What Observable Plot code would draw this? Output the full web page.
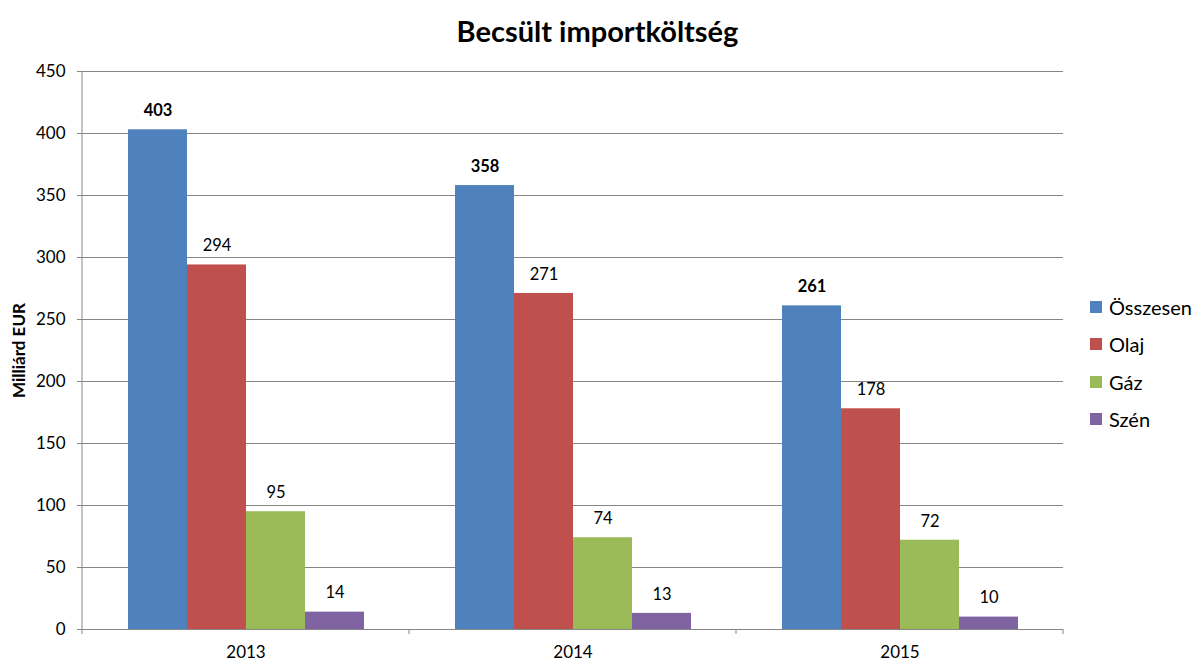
<!DOCTYPE html>
<html><head><meta charset="utf-8">
<script src="https://cdn.jsdelivr.net/npm/d3@7"></script>
<script src="https://cdn.jsdelivr.net/npm/@observablehq/plot@0.6"></script>
<style>
body{margin:0;background:#fff;font-family:Lato,"Open Sans",sans-serif;}
#wrap{position:relative;width:1195px;height:662px;overflow:hidden;}
#title{position:absolute;left:0;top:0;width:1195px;height:60px;line-height:62px;text-align:center;font-size:29px;font-weight:bold;color:#000;}
#chart{position:absolute;left:0;top:55px;}
#legend{position:absolute;left:1090px;top:288px;font-size:20px;color:#000;}
.li{display:flex;align-items:center;height:37.5px;}
.sw{width:12px;height:12px;margin-right:7px;}
</style>
</head><body>
<div id="wrap">
  <div id="title">Becsült importköltség</div>
  <div id="chart"></div>
  <div id="legend"></div>
</div>
<script>
const years = ["2013", "2014", "2015"];
const series = ["Összesen", "Olaj", "Gáz", "Szén"];
const osszesen = [403, 358, 261];
const olaj = [294, 271, 178];
const gaz = [95, 74, 72];
const szen = [14, 13, 10];
const colors = ["#4F81BD", "#C0504D", "#9BBB59", "#8064A2"];
const yTicks = [0, 50, 100, 150, 200, 250, 300, 350, 400, 450];
const yLabel = "Milliárd EUR";

const valuesBySeries = [osszesen, olaj, gaz, szen];
const rows = [];
years.forEach((yr, i) => series.forEach((s, j) => rows.push({year: yr, series: s, value: valuesBySeries[j][i]})));

const gridColor = "#868686";
const chart = Plot.plot({
  width: 1195, height: 607,
  marginLeft: 82, marginRight: 132, marginTop: 16, marginBottom: 33,
  style: {fontFamily: "Lato, 'Open Sans', sans-serif", fontSize: "16px", color: "#000", background: "#fff"},
  fx: {domain: years, padding: 0, label: null},
  x: {domain: series, paddingInner: 0, paddingOuter: 0.747, axis: null},
  y: {domain: [0, 450]},
  color: {domain: series, range: colors},
  marks: [
    Plot.gridY(yTicks, {stroke: gridColor, strokeOpacity: 1}),
    Plot.barY(rows, {fx: "year", x: "series", y: "value", fill: "series"}),
    Plot.text(rows.filter(d => d.series === "Összesen"), {fx: "year", x: "series", y: "value", text: d => String(d.value), dy: -19, fontWeight: "bold", fontSize: 16.5}),
    Plot.text(rows.filter(d => d.series !== "Összesen"), {fx: "year", x: "series", y: "value", text: d => String(d.value), dy: -19, fontSize: 16.5}),
    Plot.axisY(yTicks, {tickSize: 5, tickPadding: 12, stroke: gridColor, label: yLabel, labelArrow: "none", labelAnchor: "center", labelOffset: 70, fontSize: 17}),
    Plot.axisFx({anchor: "bottom", tickSize: 0, tickPadding: 16, label: null, fontSize: 17}),
    Plot.ruleY([0], {stroke: gridColor})
  ]
});
document.getElementById("chart").appendChild(chart);

// bold axis title
const lab = chart.querySelector('[aria-label="y-axis label"] text') || chart.querySelector('[aria-label="y-axis label"]');
if (lab) { lab.setAttribute("font-weight", "bold"); lab.setAttribute("font-size", "17"); }

// axis line and group separators from the fx scale
const fx = chart.scale("fx");
const svg = d3.select(chart);
const yS = chart.scale("y");
const y0 = yS.apply(0), yTop = yS.apply(450);
const edges = years.map(v => fx.apply(v));
edges.push(fx.apply(years[years.length - 1]) + fx.bandwidth);
svg.append("line").attr("x1", edges[0]).attr("x2", edges[0]).attr("y1", yTop).attr("y2", y0).attr("stroke", gridColor);
edges.forEach(e => svg.append("line").attr("x1", e).attr("x2", e).attr("y1", y0).attr("y2", y0 + 5).attr("stroke", gridColor));

// legend
const leg = document.getElementById("legend");
series.forEach((s, i) => {
  const row = document.createElement("div"); row.className = "li";
  const sw = document.createElement("div"); sw.className = "sw"; sw.style.background = colors[i];
  const t = document.createElement("span"); t.textContent = s;
  row.appendChild(sw); row.appendChild(t); leg.appendChild(row);
});
</script>
</body></html>
